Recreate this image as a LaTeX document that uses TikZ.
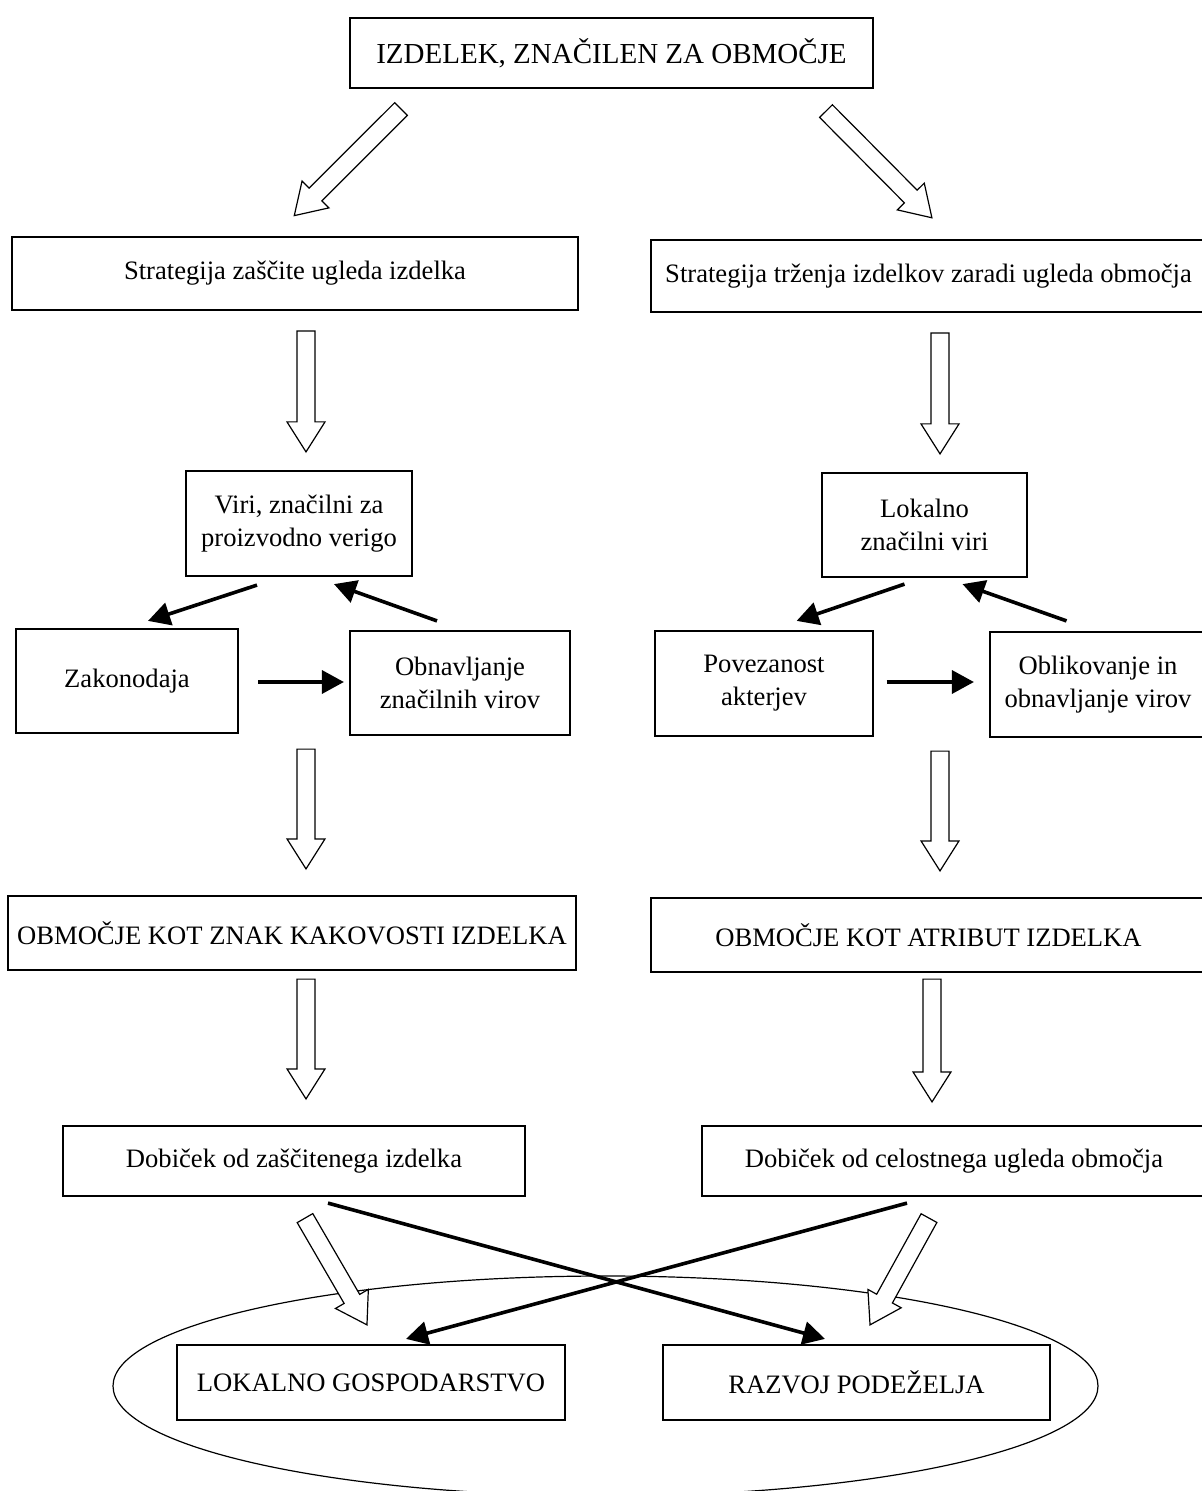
\documentclass[tikz,border=0pt]{standalone}
\usepackage{fontspec}
\setmainfont{Liberation Serif}
\usetikzlibrary{arrows.meta, shapes.geometric, calc}

% wide outlined arrow between two points
\newcommand{\fatarrow}[2]{%
  \draw[hollowarrow] let \p1=#1, \p2=#2,
      \n1={atan2(\y2-\y1,\x2-\x1)}, \n2={veclen(\x2-\x1,\y2-\y1)} in
    [shift={(\p1)}, rotate=\n1]
    (0pt,-4.5pt) -- ({\n2*1pt-15pt},-4.5pt) -- ({\n2*1pt-15pt},-9.5pt)
    -- ({\n2*1pt},0pt) -- ({\n2*1pt-15pt},9.5pt) -- ({\n2*1pt-15pt},4.5pt)
    -- (0pt,4.5pt) -- cycle;}

\begin{document}
\begin{tikzpicture}[
    x=0.5pt, y=-0.5pt,
    box/.style={rectangle, draw=black, line width=1.1pt, fill=white,
                align=center, inner sep=2pt},
    hollowarrow/.style={draw=black, line width=0.6pt, fill=white, line join=miter},
    blackarrow/.style={-{Triangle[length=11pt, width=11.5pt]}, line width=1.8pt},
    every node/.style={font=\fontsize{13.3}{16.5}\selectfont}
]
\useasboundingbox (0,0) rectangle (1202,1491);
\node[draw, ellipse, line width=0.6pt, minimum width=492.5pt, minimum height=110pt] (area) at (605.5,1386) {};
\node[box, minimum width=261.5pt, minimum height=35pt, font=\fontsize{14.5}{16.5}\selectfont] (product) at (611.5,53) {IZDELEK, ZNAČILEN ZA OBMOČJE};
\node[box, minimum width=283pt, minimum height=36.5pt] (protect) at (295,273.5) {Strategija zaščite ugleda izdelka};
\node[box, minimum width=277.5pt, minimum height=36pt] (market) at (928.5,276) {Strategija trženja izdelkov zaradi ugleda območja};
\node[box, minimum width=113pt, minimum height=52.5pt] (chainres) at (299,523.5) {Viri, značilni za\\proizvodno verigo};
\node[box, minimum width=102.5pt, minimum height=52pt] (localres) at (924.5,525) {Lokalno\\značilni viri};
\node[box, minimum width=111pt, minimum height=52pt] (law) at (127,681) {Zakonodaja};
\node[box, minimum width=110pt, minimum height=52pt] (renew) at (460,683) {Obnavljanje\\značilnih virov};
\node[box, minimum width=109pt, minimum height=52.5pt] (actors) at (764,683.5) {Povezanost\\akterjev};
\node[box, minimum width=108pt, minimum height=52.5pt] (shaping) at (1098,684.5) {Oblikovanje in\\obnavljanje virov};
\node[box, minimum width=284pt, minimum height=37pt] (quality) at (292,933) {OBMOČJE KOT ZNAK KAKOVOSTI IZDELKA};
\node[box, minimum width=277.5pt, minimum height=37pt] (attribute) at (928.5,935) {OBMOČJE KOT ATRIBUT IZDELKA};
\node[box, minimum width=231pt, minimum height=35pt] (gainprot) at (294,1161) {Dobiček od zaščitenega izdelka};
\node[box, minimum width=252pt, minimum height=35pt] (gainimage) at (954,1161) {Dobiček od celostnega ugleda območja};
\node[box, minimum width=194pt, minimum height=37.5pt] (economy) at (371,1382.5) {LOKALNO GOSPODARSTVO};
\node[box, minimum width=193.5pt, minimum height=37.5pt] (rural) at (856.5,1382.5) {RAZVOJ PODEŽELJA};
% outlined arrows
\fatarrow{([xshift=-105.25pt, yshift=-10pt]product.south)}{([xshift=-0.5pt, yshift=10pt]protect.north)}
\fatarrow{([xshift=107.25pt, yshift=-11pt]product.south)}{([xshift=1.75pt, yshift=10.5pt]market.north)}
\fatarrow{([xshift=5.5pt, yshift=-10pt]protect.south)}{([xshift=3.5pt, yshift=9pt]chainres.north)}
\fatarrow{([xshift=5.75pt, yshift=-10pt]market.south)}{([xshift=7.75pt, yshift=9pt]localres.north)}
\fatarrow{([xshift=89.5pt, yshift=-7.5pt]law.south)}{([xshift=7pt, yshift=13pt]quality.north)}
\fatarrow{([xshift=88pt, yshift=-7pt]actors.south)}{([xshift=5.75pt, yshift=13pt]attribute.north)}
\fatarrow{([xshift=7pt, yshift=-4pt]quality.south)}{([xshift=6pt, yshift=13pt]gainprot.north)}
\fatarrow{([xshift=1.75pt, yshift=-3pt]attribute.south)}{([xshift=-11pt, yshift=11.5pt]gainimage.north)}
\fatarrow{([xshift=5.5pt, yshift=-10.5pt]gainprot.south)}{([xshift=-2pt, yshift=9.5pt]economy.north)}
\fatarrow{([xshift=-12.5pt, yshift=-10.5pt]gainimage.south)}{([xshift=6.75pt, yshift=9.5pt]rural.north)}
% solid arrows
\draw[blackarrow] ([xshift=-21pt, yshift=-4pt]chainres.south) -- ([xshift=10.5pt, yshift=3.5pt]law.north);
\draw[blackarrow] ([xshift=-11.5pt, yshift=4.5pt]renew.north) -- ([xshift=17.5pt, yshift=-3.5pt]chainres.south);
\draw[blackarrow] ([xshift=9.5pt, yshift=-0.5pt]law.east) -- ([xshift=-2.5pt, yshift=0.5pt]renew.west);
\draw[blackarrow] ([xshift=-10pt, yshift=-3pt]localres.south) -- ([xshift=16.3pt, yshift=4.5pt]actors.north);
\draw[blackarrow] ([xshift=-15.75pt, yshift=5pt]shaping.north) -- ([xshift=19pt, yshift=-3pt]localres.south);
\draw[blackarrow] ([xshift=6.25pt, yshift=0.75pt]actors.east) -- ([xshift=-7.5pt, yshift=1.25pt]shaping.west);
\draw[blackarrow] ([xshift=17pt, yshift=-3pt]gainprot.south) -- ([xshift=-15.75pt, yshift=2.5pt]rural.north);
\draw[blackarrow] ([xshift=-23.5pt, yshift=-3pt]gainimage.south) -- ([xshift=17.5pt, yshift=2.5pt]economy.north);
\end{tikzpicture}
\end{document}
